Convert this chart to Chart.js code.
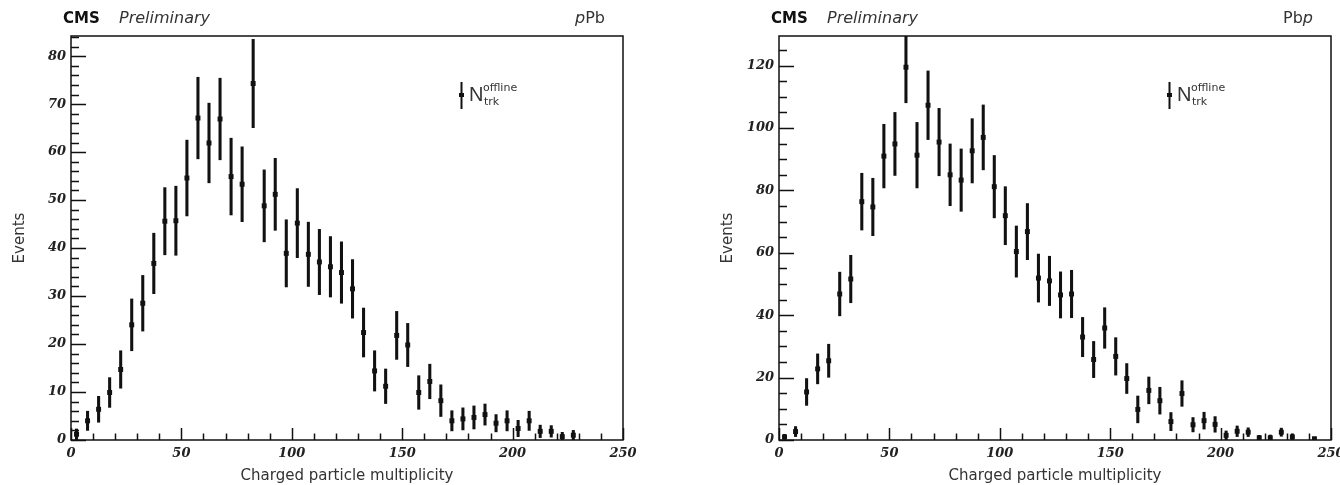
<!DOCTYPE html>
<html>
<head>
<meta charset="utf-8">
<script src="https://cdn.jsdelivr.net/npm/chart.js@4.4.0/dist/chart.umd.min.js"></script>
<style>
  body { margin: 0; background: #fff; width: 1340px; height: 485px; position: relative; overflow: hidden; }
  canvas { position: absolute; top: 0; }
  #pPbChart { left: 0; }
  #PbpChart { left: 708px; }
</style>
</head>
<body>
<canvas id="pPbChart" width="670" height="485"></canvas>
<canvas id="PbpChart" width="632" height="485"></canvas>
<script>
// bin centres of the multiplicity histogram (5 tracks per bin)
const binCentres = [
  2.5, 7.5, 12.5, 17.5, 22.5, 27.5, 32.5, 37.5, 42.5, 47.5,
  52.5, 57.5, 62.5, 67.5, 72.5, 77.5, 82.5, 87.5, 92.5, 97.5,
  102.5, 107.5, 112.5, 117.5, 122.5, 127.5, 132.5, 137.5, 142.5, 147.5,
  152.5, 157.5, 162.5, 167.5, 172.5, 177.5, 182.5, 187.5, 192.5, 197.5,
  202.5, 207.5, 212.5, 217.5, 222.5, 227.5, 232.5, 237.5, 242.5
];

const pPbEvents = [
  1.2, 4.0, 6.4, 9.9, 14.7, 24.0, 28.5, 36.8, 45.6, 45.7,
  54.6, 67.1, 61.9, 66.9, 54.9, 53.3, 74.3, 48.8, 51.2, 38.9,
  45.2, 38.7, 37.1, 36.1, 34.9, 31.5, 22.4, 14.4, 11.2, 21.8,
  19.8, 9.9, 12.2, 8.2, 4.0, 4.4, 4.7, 5.3, 3.5, 4.0,
  2.4, 4.0, 1.8, 1.8, 0.7, 1.0, null, null, null
];
const pPbErrors = [
  1.1, 2.0, 2.7, 3.1, 3.9, 5.4, 5.8, 6.3, 7.0, 7.2,
  7.9, 8.5, 8.3, 8.5, 8.0, 7.8, 9.2, 7.5, 7.5, 7.0,
  7.2, 6.7, 6.8, 6.3, 6.4, 6.1, 5.1, 4.2, 3.6, 5.0,
  4.5, 3.5, 3.6, 3.3, 2.1, 2.3, 2.4, 2.2, 1.8, 2.1,
  1.7, 2.0, 1.3, 1.2, 0.9, 1.0, null, null, null
];

const PbpEvents = [
  1.0, 2.7, 15.4, 22.8, 25.4, 46.8, 51.6, 76.4, 74.7, 91.0,
  94.9, 119.5, 91.3, 107.3, 95.5, 85.0, 83.3, 92.7, 97.0, 81.2,
  71.9, 60.4, 66.8, 51.9, 51.0, 46.5, 46.8, 33.0, 25.8, 35.9,
  26.8, 19.7, 9.8, 15.9, 12.6, 5.9, 14.9, 4.9, 6.2, 5.0,
  1.5, 2.8, 2.5, 0.7, 0.7, 2.5, 1.0, null, 0.4
];
const PbpErrors = [
  0.8, 1.6, 4.3, 4.8, 5.3, 7.0, 7.6, 9.1, 9.2, 10.2,
  10.1, 11.4, 10.5, 11.0, 10.8, 9.9, 10.0, 10.3, 10.4, 10.0,
  9.3, 8.2, 9.0, 7.7, 7.9, 7.4, 7.6, 6.3, 5.8, 6.5,
  6.0, 4.8, 4.3, 4.3, 4.3, 2.9, 4.1, 2.3, 2.7, 2.5,
  1.4, 1.7, 1.4, 0.8, 0.9, 1.3, 1.0, null, 0.5
];

const xTickStep = 50;
const xMinorStep = 10;

const tickFont = { family: 'DejaVu Serif', size: 13, style: 'italic', weight: 'bold' };
const textColor = '#222';

// inward ROOT-style ticks plus the closed frame
const frameAndTicks = {
  id: 'frameAndTicks',
  afterDatasetsDraw(chart, args, opts) {
    const { ctx, chartArea: a, scales: { x, y } } = chart;
    ctx.save();
    ctx.strokeStyle = '#111';
    ctx.lineWidth = 1.5;
    ctx.beginPath();
    for (let v = 0; v <= x.max; v += xMinorStep) {
      const px = Math.round(x.getPixelForValue(v)) + 0.5;
      const len = v % xTickStep === 0 ? 12 : 6.5;
      ctx.moveTo(px, a.bottom);
      ctx.lineTo(px, a.bottom - len);
    }
    for (let i = 0; i * opts.yMinor <= y.max; i++) {
      const py = Math.round(y.getPixelForValue(i * opts.yMinor)) + 0.5;
      const len = i % opts.yPerMajor === 0 ? 15 : 8;
      ctx.moveTo(a.left, py);
      ctx.lineTo(a.left + len, py);
    }
    ctx.stroke();
    ctx.strokeRect(a.left, a.top, a.right - a.left, a.bottom - a.top);
    ctx.restore();
  }
};

// header line and the N_trk^offline legend entry
const header = {
  id: 'header',
  afterDraw(chart, args, opts) {
    const { ctx } = chart;
    ctx.save();
    ctx.fillStyle = '#111';
    ctx.textBaseline = 'alphabetic';
    ctx.font = 'bold 15px "DejaVu Sans"';
    ctx.fillText('CMS', 63, 23);
    ctx.fillStyle = '#333';
    ctx.font = 'oblique 16px "DejaVu Sans"';
    ctx.fillText('Preliminary', 119, 23);

    // collision system, p in italics
    const up = '16px "DejaVu Sans"', it = 'oblique 16px "DejaVu Sans"';
    const parts = opts.system;
    let w = 0;
    parts.forEach(([t, ital]) => { ctx.font = ital ? it : up; w += ctx.measureText(t).width; });
    let sx = 605 - w;
    parts.forEach(([t, ital]) => {
      ctx.font = ital ? it : up;
      ctx.fillText(t, sx, 23);
      sx += ctx.measureText(t).width;
    });

    // legend marker: error bar with square
    ctx.fillStyle = '#111';
    ctx.fillRect(460.5, 82, 2, 27);
    ctx.fillRect(459, 93, 5, 4);
    ctx.fillStyle = '#333';
    ctx.font = '20px "Liberation Sans"';
    ctx.fillText('N', 469, 101);
    ctx.font = '11px "DejaVu Sans"';
    ctx.fillText('offline', 483, 91);
    ctx.fillText('trk', 484, 105);
    ctx.restore();
  }
};

function buildChart(id, events, errors, yMax, yStep, yMinor, system, rightPad) {
  const markers = [];
  const bars = [];
  binCentres.forEach((c, i) => {
    if (events[i] === null) return;
    markers.push({ x: c, y: events[i] });
    bars.push({ x: c, y: [Math.max(0, events[i] - errors[i]), events[i] + errors[i]] });
  });

  return new Chart(document.getElementById(id), {
    type: 'bar',
    data: {
      datasets: [
        {
          type: 'scatter',
          data: markers,
          pointStyle: 'rect',
          radius: 3.5,
          backgroundColor: '#111',
          borderWidth: 0,
          order: 0,
        },
        {
          type: 'bar',
          data: bars,
          barThickness: 2.4,
          backgroundColor: '#111',
          borderWidth: 0,
          grouped: false,
          order: 1,
        },
      ],
    },
    options: {
      responsive: false,
      animation: false,
      events: [],
      layout: { padding: { top: 36, left: 0, right: rightPad, bottom: 0 } },
      plugins: {
        legend: { display: false },
        tooltip: { enabled: false },
        header: { system },
        frameAndTicks: { yMinor, yPerMajor: yStep / yMinor },
      },
      scales: {
        x: {
          type: 'linear',
          min: 0,
          max: 250,
          offset: false,
          grid: { display: false, drawTicks: false },
          border: { display: false },
          ticks: { stepSize: xTickStep, font: tickFont, color: textColor, padding: 6, maxRotation: 0, includeBounds: false },
          title: {
            display: true,
            text: 'Charged particle multiplicity',
            font: { family: 'DejaVu Sans', size: 15 },
            color: '#333',
            padding: { top: 0, bottom: 0 },
          },
          afterFit(scale) {
            scale.height = 45;
            scale.paddingLeft = 0;
            scale.paddingRight = 0;
          },
        },
        y: {
          type: 'linear',
          min: 0,
          max: yMax,
          grid: { display: false, drawTicks: false },
          border: { display: false },
          ticks: { stepSize: yStep, font: tickFont, color: textColor, padding: 5, includeBounds: false },
          title: {
            display: true,
            text: 'Events',
            font: { family: 'DejaVu Sans', size: 15 },
            color: '#333',
            padding: { top: 11, bottom: 0 },
          },
          afterFit(scale) {
            scale.width = 71;
            scale.paddingTop = 0;
            scale.paddingBottom = 0;
          },
        },
      },
    },
    plugins: [frameAndTicks, header],
  });
}

buildChart('pPbChart', pPbEvents, pPbErrors, 84.2, 10, 2, [['p', true], ['Pb', false]], 47);
buildChart('PbpChart', PbpEvents, PbpErrors, 129.5, 20, 5, [['Pb', false], ['p', true]], 9);
</script>
</body>
</html>
